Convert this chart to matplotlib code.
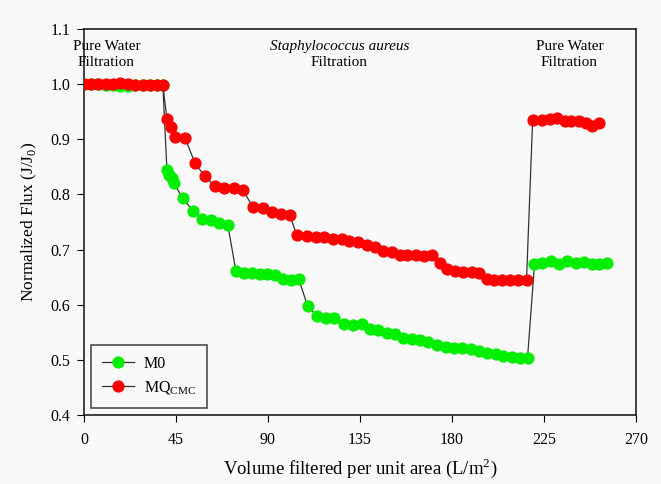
import matplotlib
matplotlib.use("Agg")
import matplotlib.pyplot as plt

plt.rcParams['font.family'] = ['Liberation Serif', 'DejaVu Serif']
plt.rcParams['mathtext.fontset'] = 'custom'
plt.rcParams['mathtext.rm'] = 'Liberation Serif'

# ---- data ----
m0_x = [0, 3.4, 6.8, 10.8, 14.2, 17.6, 21.5, 24.9, 28.8, 32.3, 35.7, 38.6,
        40.6, 41.5, 43, 44, 48.4, 53.3, 57.7, 62.1, 66, 70.4,
        74.3, 78.2, 82.1, 86, 89.4, 93.4, 97.3, 101.2, 105.1,
        109.5, 113.9, 118.3, 122.2, 127.1, 131.5, 135.9, 139.8, 143.7, 148.1,
        152, 155.9, 160.3, 164.2, 168.1, 172.5, 176.9, 180.8, 184.7, 189.1,
        193.1, 197, 201.4, 204.8, 209.2, 213.1, 217,
        220.4, 224.3, 228.7, 232.6, 236.5, 240.9, 244.8, 248.7, 252.1, 256.1]
m0_y = [1.0, 1.0, 1.0, 0.998, 0.998, 0.997, 0.997, 0.998, 0.998, 0.998, 0.998, 0.998,
        0.844, 0.836, 0.829, 0.820, 0.793, 0.770, 0.755, 0.753, 0.749, 0.744,
        0.662, 0.658, 0.658, 0.656, 0.656, 0.653, 0.647, 0.645, 0.646,
        0.597, 0.580, 0.576, 0.575, 0.565, 0.563, 0.565, 0.556, 0.555, 0.549,
        0.547, 0.540, 0.538, 0.536, 0.533, 0.527, 0.524, 0.522, 0.522, 0.520,
        0.516, 0.513, 0.511, 0.507, 0.505, 0.504, 0.504,
        0.673, 0.676, 0.680, 0.674, 0.680, 0.676, 0.678, 0.674, 0.673, 0.675]

mq_x = [0, 3.4, 6.8, 10.8, 14.2, 17.6, 21.5, 24.9, 28.8, 32.3, 35.7, 38.6,
        40.6, 42.5, 44.5, 49.4, 54.3, 59.1, 64, 68.4, 73.3, 77.7,
        82.6, 87.5, 91.9, 96.3, 100.7,
        104.1, 109, 113.4, 117.3, 121.7, 126.1, 129.5, 133.9, 138.3, 142.2,
        146.1, 150.5, 154.4, 157.9, 162.3, 166.2, 170.1, 174, 177.4, 181.3,
        185.2, 189.6, 193.1, 197, 200.4, 204.3, 208.2, 212.1, 216.5,
        219.5, 223.9, 227.8, 231.2, 235.1, 238.5, 242.4, 245.8, 248.7, 252.2]
mq_y = [1.0, 1.0, 1.0, 1.0, 1.001, 1.002, 1.0, 0.999, 0.999, 0.998, 0.998, 0.998,
        0.937, 0.922, 0.904, 0.903, 0.857, 0.833, 0.815, 0.812, 0.811, 0.808,
        0.778, 0.775, 0.768, 0.765, 0.763,
        0.726, 0.725, 0.723, 0.722, 0.720, 0.719, 0.716, 0.713, 0.709, 0.705,
        0.698, 0.695, 0.691, 0.691, 0.691, 0.689, 0.691, 0.676, 0.664, 0.662,
        0.660, 0.660, 0.658, 0.647, 0.645, 0.645, 0.645, 0.645, 0.645,
        0.935, 0.935, 0.936, 0.938, 0.933, 0.933, 0.933, 0.929, 0.925, 0.929]

x_ticks = [0, 45, 90, 135, 180, 225, 270]
y_ticks = [0.4, 0.5, 0.6, 0.7, 0.8, 0.9, 1.0, 1.1]

fig = plt.figure(figsize=(6.61, 4.84), dpi=100)
fig.patch.set_facecolor('#f9f9f9')
ax = fig.add_axes([0.127, 0.1426, 0.835, 0.7974])
ax.set_facecolor('#f9f9f9')

ax.plot(m0_x, m0_y, '-', color='#333333', lw=0.9, marker='o', ms=7.8,
        mfc='#00ee00', mec='#00ee00', label='M0', zorder=3)
ax.plot(mq_x, mq_y, '-', color='#333333', lw=0.9, marker='o', ms=7.8,
        mfc='#ff0000', mec='#ff0000', label=r'MQ$_{\mathrm{CMC}}$', zorder=3)

ax.set_xlim(0, 270)
ax.set_ylim(0.4, 1.1)
ax.set_xticks(x_ticks)
ax.set_yticks(y_ticks)
ax.set_yticklabels([f'{v:.1f}' for v in y_ticks])
ax.tick_params(axis='both', direction='out', length=5, labelsize=11.5,
               top=False, right=False)
ax.tick_params(axis='x', pad=7)
ax.tick_params(axis='y', pad=5)
for s in ax.spines.values():
    s.set_linewidth(1.2)
    s.set_color('#222222')

ax.set_xlabel('Volume filtered per unit area (L/m$^2$)', fontsize=13.5, labelpad=6)
ax.set_ylabel('Normalized Flux (J/J$_0$)', fontsize=12.5, labelpad=8)

tfs = 11
ax.text(11, 1.081, 'Pure Water\nFiltration', ha='center', va='top', fontsize=tfs,
        linespacing=1.35)
ax.text(125, 1.081, 'Staphylococcus aureus', ha='center', va='top', fontsize=tfs,
        style='italic')
ax.text(125, 1.0505, 'Filtration', ha='center', va='top', fontsize=tfs)
ax.text(237.5, 1.081, 'Pure Water\nFiltration', ha='center', va='top', fontsize=tfs,
        linespacing=1.35)

leg = ax.legend(loc='lower left', bbox_to_anchor=(0.0, 0.0), fontsize=11.5,
                frameon=True, fancybox=False, edgecolor='#222222',
                handlelength=2.0, handletextpad=0.6, borderpad=0.7,
                labelspacing=0.45, borderaxespad=0.45)
leg.get_frame().set_linewidth(1.2)
leg.get_frame().set_facecolor('#f9f9f9')

fig.savefig('out.png', dpi=100, facecolor=fig.get_facecolor())
